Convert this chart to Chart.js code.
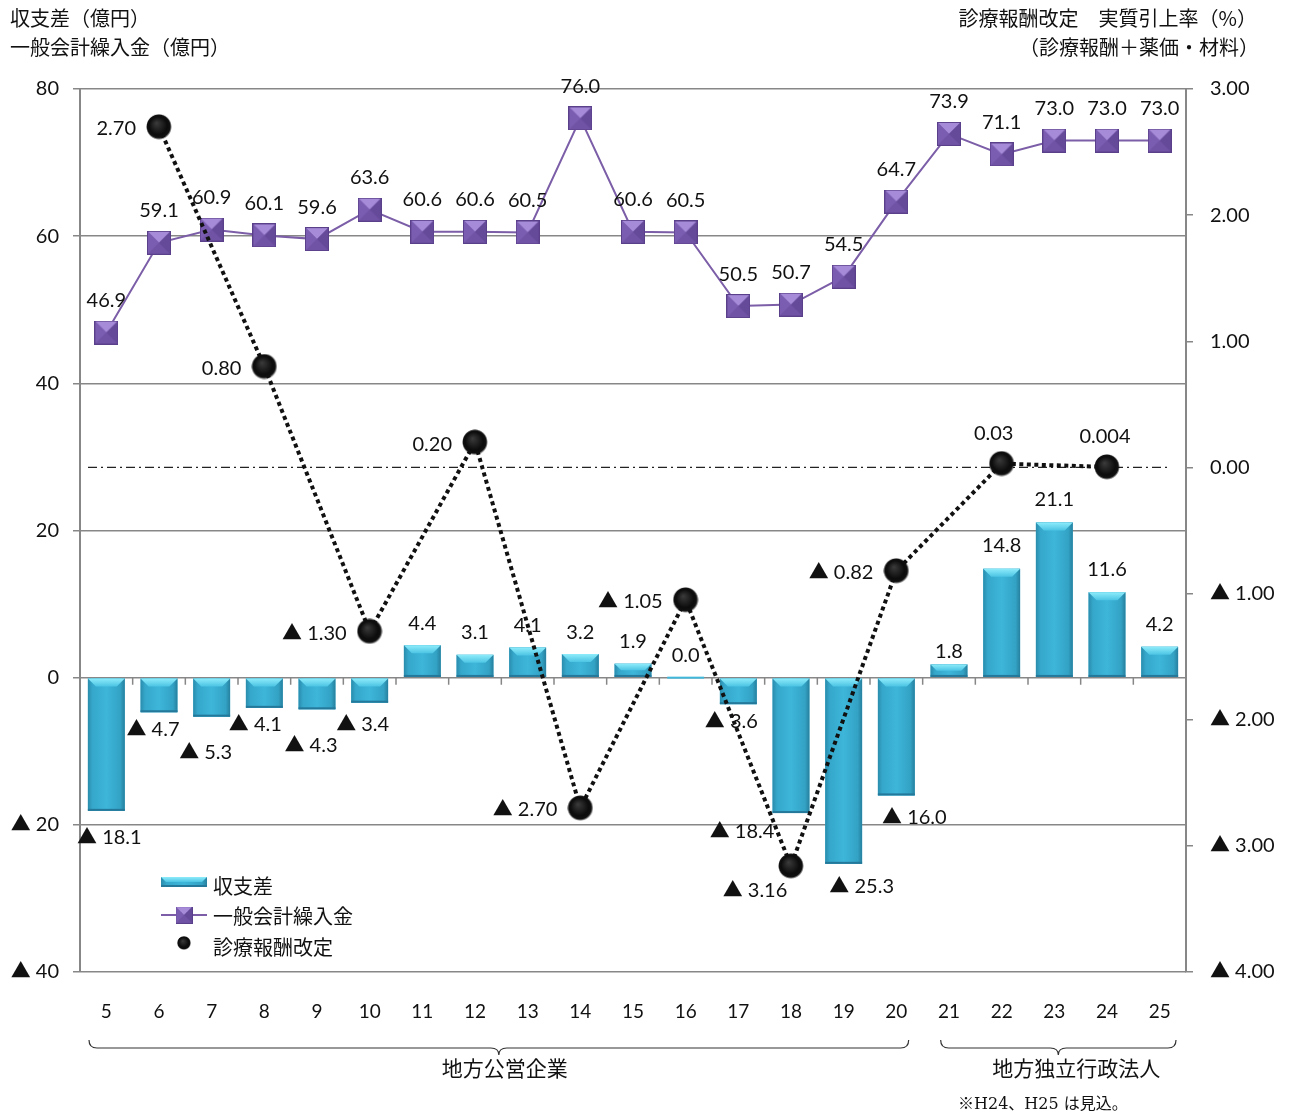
<!DOCTYPE html>
<html><head><meta charset="utf-8">
<script src="https://cdn.jsdelivr.net/npm/chart.js@4.4.0/dist/chart.umd.min.js"></script>
<style>html,body{margin:0;padding:0;background:#fff;}canvas{display:block}</style>
</head><body>
<canvas id="c" width="1292" height="1118"></canvas>
<script>
// ---------- data ----------
const categories = ['5','6','7','8','9','10','11','12','13','14','15','16','17','18','19','20','21','22','23','24','25'];
const balanceValues = [-18.1,-4.7,-5.3,-4.1,-4.3,-3.4,4.4,3.1,4.1,3.2,1.9,0.0,-3.6,-18.4,-25.3,-16.0,1.8,14.8,21.1,11.6,4.2];
const transferValues = [46.9,59.1,60.9,60.1,59.6,63.6,60.6,60.6,60.5,76.0,60.6,60.5,50.5,50.7,54.5,64.7,73.9,71.1,73.0,73.0,73.0];
const revisionValues = [null,2.70,null,0.80,null,-1.30,null,0.20,null,-2.70,null,-1.05,null,-3.16,null,-0.82,null,0.03,null,0.004,null];
const leftTicks = [80,60,40,20,0,-20,-40];
const rightTicks = [3,2,1,0,-1,-2,-3,-4];
const seriesNames = ['収支差','一般会計繰入金','診療報酬改定'];
const leftTitles = ['収支差（億円）','一般会計繰入金（億円）'];
const rightTitles = ['診療報酬改定　実質引上率（%）','（診療報酬＋薬価・材料）'];
const groupNames = ['地方公営企業','地方独立行政法人'];
const groupRanges = [[0,15],[16,20]];
const footNote = '※H24、H25 は見込。';

// ---------- label nudges (style) ----------
const barLabelNudge = [[3,27],[-6,17],[-6,36],[-9,17],[-6,36],[-7,22],[0,-22],[0,-22],[0,-22],[0,-22],[0,-22],[0,-22],[-7,17],[-49,18],[18,23],[18,22],[0,-13],[0,-23],[0,-23],[0,-23],[0,-22]];
const revLabelNudge = {13:[-36,25,'center'],17:[-8,-30,'center'],19:[-2,-30,'center']};

const NUM_FONT = "Lato, 'Noto Sans CJK JP', 'DejaVu Sans', sans-serif";
const JP_FONT = "'Noto Sans CJK JP', sans-serif";
const TXT = '#111';
const GRID = '#878787';

const fmt1 = v => (v < 0 ? '▲ ' : '') + Math.abs(v).toFixed(1);
const fmtRev = v => { const a = Math.abs(v); const d = Math.max(2, (String(a).split('.')[1] || '').length); return (v < 0 ? '▲ ' : '') + a.toFixed(d); };

function makeSquare(s){
  const c = document.createElement('canvas'); c.width = c.height = s;
  const g = c.getContext('2d');
  g.fillStyle = '#7053a5'; g.fillRect(0,0,s,s);
  g.fillStyle = '#a68bd9'; g.beginPath(); g.moveTo(0,0); g.lineTo(s,0); g.lineTo(s/2,s/2); g.closePath(); g.fill();
  g.fillStyle = '#7a5cb0'; g.beginPath(); g.moveTo(0,0); g.lineTo(0,s); g.lineTo(s/2,s/2); g.closePath(); g.fill();
  g.fillStyle = '#664a9a'; g.beginPath(); g.moveTo(s,0); g.lineTo(s,s); g.lineTo(s/2,s/2); g.closePath(); g.fill();
  g.strokeStyle = '#5a3f8a'; g.lineWidth = 1; g.strokeRect(0.5,0.5,s-1,s-1);
  return c;
}
function makeDot(s){
  const c = document.createElement('canvas'); c.width = c.height = s;
  const g = c.getContext('2d');
  const r = s/2;
  const gr = g.createRadialGradient(r*0.8,r*0.7,0,r,r,r);
  gr.addColorStop(0,'#3c3c3c'); gr.addColorStop(0.7,'#0c0c0c'); gr.addColorStop(0.88,'#111'); gr.addColorStop(1,'rgba(0,0,0,0)');
  g.fillStyle = gr; g.beginPath(); g.arc(r,r,r,0,Math.PI*2); g.fill();
  return c;
}
const squareImg = makeSquare(24);
const dotImg = makeDot(26);

function paintBar(ctx, left, top, w, h){
  if (h < 2) {
    ctx.fillStyle = '#3fb8dc'; ctx.fillRect(left, top - 1, w, 2); return;
  }
  const right = left + w;
  const g = ctx.createLinearGradient(left,0,right,0);
  g.addColorStop(0,'#2a8cad'); g.addColorStop(0.12,'#35a7ca'); g.addColorStop(0.5,'#3db6da'); g.addColorStop(0.88,'#33a2c4'); g.addColorStop(1,'#27809e');
  ctx.fillStyle = g; ctx.fillRect(left, top, w, h);
  const b = Math.min(8, h/2);
  const tg = ctx.createLinearGradient(0,top,0,top+b);
  tg.addColorStop(0,'#8eecfa'); tg.addColorStop(1,'#4cc4e4');
  ctx.fillStyle = tg; ctx.beginPath(); ctx.moveTo(left,top); ctx.lineTo(right,top); ctx.lineTo(right-b,top+b); ctx.lineTo(left+b,top+b); ctx.closePath(); ctx.fill();
  ctx.fillStyle = '#24789a'; ctx.fillRect(left, top + h - 2, w, 2);
}

const decor = {
  id: 'decor',
  beforeDatasetsDraw(chart){
    const {ctx, chartArea:a, scales} = chart;
    const yz = scales.y2.getPixelForValue(0);
    ctx.save(); ctx.strokeStyle = '#222'; ctx.lineWidth = 1.3; ctx.setLineDash([9,4,2,4]);
    ctx.beginPath(); ctx.moveTo(a.left + 8, yz); ctx.lineTo(a.right - 18, yz); ctx.stroke(); ctx.restore();
    const y0 = scales.y.getPixelForValue(0); const xs = scales.x;
    ctx.save(); ctx.strokeStyle = GRID; ctx.lineWidth = 1.5; ctx.beginPath();
    for (let i = 1; i < categories.length; i++) {
      const bx = (xs.getPixelForValue(i-1) + xs.getPixelForValue(i)) / 2;
      ctx.moveTo(bx, y0); ctx.lineTo(bx, y0 + 7);
    }
    ctx.stroke(); ctx.restore();
  },
  afterDatasetDraw(chart, args){
    if (args.index !== 0) return;
    const ctx = chart.ctx;
    ctx.save();
    chart.getDatasetMeta(0).data.forEach(el => {
      const p = el.getProps(['x','y','base','width'], true);
      const top = Math.min(p.y, p.base); const h = Math.abs(p.base - p.y);
      paintBar(ctx, p.x - p.width/2, top, p.width, h);
    });
    ctx.restore();
  },
  afterDraw(chart){
    const {ctx, chartArea:a, scales} = chart;
    ctx.save();
    ctx.fillStyle = TXT;
    // data labels
    ctx.font = '20px ' + NUM_FONT; ctx.textBaseline = 'middle';
    chart.getDatasetMeta(0).data.forEach((el, i) => {
      const n = barLabelNudge[i];
      ctx.textAlign = 'center';
      ctx.fillText(fmt1(balanceValues[i]), el.x + n[0], el.y + n[1]);
    });
    chart.getDatasetMeta(1).data.forEach((el, i) => {
      ctx.textAlign = 'center';
      ctx.fillText(transferValues[i].toFixed(1), el.x, el.y - 32);
    });
    chart.getDatasetMeta(2).data.forEach((el, i) => {
      const v = revisionValues[i]; if (v === null) return;
      const n = revLabelNudge[i] || [-23, 2, 'right'];
      ctx.textAlign = n[2];
      ctx.fillText(fmtRev(v), el.x + n[0], el.y + n[1]);
    });
    // axis titles
    ctx.font = '20px ' + JP_FONT; ctx.textAlign = 'left';
    ctx.fillText(leftTitles[0], 10, 18); ctx.fillText(leftTitles[1], 10, 47);
    ctx.textAlign = 'right';
    ctx.fillText(rightTitles[0], 1257, 18); ctx.fillText(rightTitles[1], 1259, 47);
    // legend
    const lx = a.left + 81, ly = a.bottom;
    paintBar(ctx, lx, ly - 95, 46, 10);
    ctx.strokeStyle = '#7b5ea7'; ctx.lineWidth = 2;
    ctx.beginPath(); ctx.moveTo(lx, ly - 57); ctx.lineTo(lx + 46, ly - 57); ctx.stroke();
    ctx.drawImage(squareImg, lx + 23 - 8.5, ly - 57 - 8.5, 17, 17);
    ctx.drawImage(dotImg, lx + 23 - 7, ly - 29 - 7, 14, 14);
    ctx.fillStyle = TXT; ctx.textAlign = 'left'; ctx.font = '20px ' + JP_FONT;
    ctx.fillText(seriesNames[0], lx + 52, ly - 86);
    ctx.fillText(seriesNames[1], lx + 52, ly - 56);
    ctx.fillText(seriesNames[2], lx + 52, ly - 25);
    // group braces
    const xs = scales.x;
    const half = (xs.getPixelForValue(1) - xs.getPixelForValue(0)) / 2;
    ctx.strokeStyle = '#333'; ctx.lineWidth = 1.2;
    groupRanges.forEach((r, gi) => {
      const x0 = xs.getPixelForValue(r[0]) - half + 9 + gi * 9;
      const x1 = xs.getPixelForValue(r[1]) + half - 14 + gi * 4;
      const mid = (x0 + x1) / 2;
      const yT = 1040, yL = 1048, yP = 1055, rr = 8;
      ctx.beginPath();
      ctx.moveTo(x0, yT); ctx.quadraticCurveTo(x0, yL, x0 + rr, yL);
      ctx.lineTo(mid - rr, yL); ctx.quadraticCurveTo(mid, yL, mid, yP);
      ctx.quadraticCurveTo(mid, yL, mid + rr, yL);
      ctx.lineTo(x1 - rr, yL); ctx.quadraticCurveTo(x1, yL, x1, yT);
      ctx.stroke();
      ctx.font = '21px ' + JP_FONT; ctx.textAlign = 'center';
      ctx.fillText(groupNames[gi], mid + 6 + gi * 12, 1068);
    });
    ctx.font = "16px 'DejaVu Serif', 'Noto Sans CJK JP', serif"; ctx.textAlign = 'left';
    ctx.fillText(footNote, 958, 1105);
    ctx.restore();
  }
};

new Chart(document.getElementById('c'), {
  data: {
    labels: categories,
    datasets: [
      { type:'bar', label: seriesNames[0], data: balanceValues, yAxisID:'y', backgroundColor:'#3db6da', barPercentage:0.7, categoryPercentage:1.0, order:3 },
      { type:'line', label: seriesNames[1], data: transferValues, yAxisID:'y', borderColor:'#7b5ea7', borderWidth:2, pointStyle:squareImg, pointRadius:12, tension:0, order:2 },
      { type:'line', label: seriesNames[2], data: revisionValues, yAxisID:'y2', borderColor:'#111', borderWidth:4, borderDash:[4,3.5], spanGaps:true, pointStyle:dotImg, pointRadius:13, tension:0, order:1 }
    ]
  },
  options: {
    responsive:false, animation:false, devicePixelRatio:1,
    layout:{ padding:{ top:89, left:0, right:0, bottom:0 } },
    plugins:{ legend:{display:false}, tooltip:{enabled:false} },
    scales:{
      x:{ type:'category', offset:true, grid:{display:false, drawTicks:false}, border:{display:false},
          ticks:{ font:{ family:NUM_FONT, size:19 }, color:TXT, padding:28, maxRotation:0, autoSkip:false },
          afterFit(s){ s.height = 146; } },
      y:{ position:'left', min:-40, max:80,
          afterBuildTicks(s){ s.ticks = leftTicks.map(v => ({value:v})); },
          afterFit(s){ s.width = 80; },
          grid:{ color:GRID, lineWidth:1.5, tickLength:7 }, border:{ color:GRID, width:2 },
          ticks:{ font:{ family:NUM_FONT, size:20 }, color:TXT, padding:14, callback:v => (v < 0 ? '▲ ' : '') + Math.abs(v) } },
      y2:{ position:'right', min:-4, max:3,
          afterBuildTicks(s){ s.ticks = rightTicks.map(v => ({value:v})); },
          afterFit(s){ s.width = 106; },
          grid:{ drawOnChartArea:false, color:GRID, lineWidth:1.5, tickLength:7 }, border:{ color:GRID, width:2 },
          ticks:{ font:{ family:NUM_FONT, size:20 }, color:TXT, padding:17, callback:v => (v < 0 ? '▲ ' : '') + Math.abs(v).toFixed(2) } }
    }
  },
  plugins:[decor]
});
</script>
</body></html>
